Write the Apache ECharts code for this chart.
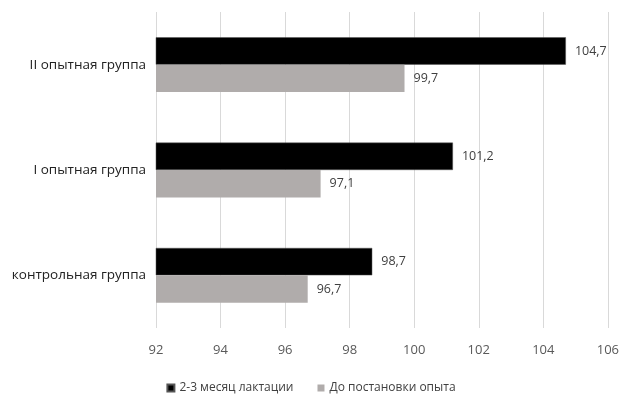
<!DOCTYPE html>
<html><head><meta charset="utf-8">
<script src="https://cdn.jsdelivr.net/npm/echarts@6/dist/echarts.min.js"></script>
<style>html,body{margin:0;padding:0;background:#fff}#c{width:622px;height:400px}</style>
</head><body><div id="c"></div>
<script>
const categories = ['контрольная группа', 'I опытная группа', 'II опытная группа'];
const seriesNames = ['2-3 месяц лактации', 'До постановки опыта'];
const lactation = [98.7, 101.2, 104.7];
const beforeExp = [96.7, 97.1, 99.7];
const fmt = v => String(v).replace('.', ',');
const chart = echarts.init(document.getElementById('c'));
chart.setOption({
  animation: false,
  textStyle: { fontFamily: 'Open Sans, DejaVu Sans, sans-serif' },
  legend: {
    bottom: 1, left: 'center', itemWidth: 7, itemHeight: 7, itemGap: 24,
    icon: 'rect',
    textStyle: { fontSize: 12, color: '#404040' },
    data: seriesNames
  },
  grid: { left: 156, right: 14, top: 12, bottom: 72 },
  xAxis: {
    type: 'value', min: 92, max: 106, interval: 2,
    axisLine: { show: false }, axisTick: { show: false },
    splitLine: { lineStyle: { color: '#d9d9d9' } },
    axisLabel: { color: '#595959', fontSize: 13, margin: 16 }
  },
  yAxis: {
    type: 'category', data: categories,
    axisLine: { show: false }, axisTick: { show: false },
    axisLabel: { color: '#222', fontSize: 13.5, margin: 10 }
  },
  series: [
    {
      name: seriesNames[0], type: 'bar', data: lactation,
      barGap: '0%', barCategoryGap: '48%',
      itemStyle: { color: '#000', borderColor: '#555', borderWidth: 0.5 },
      label: { show: true, position: 'right', distance: 9, color: '#404040', fontSize: 12.5, formatter: p => fmt(p.value) }
    },
    {
      name: seriesNames[1], type: 'bar', data: beforeExp,
      barGap: '0%', barCategoryGap: '48%',
      itemStyle: { color: '#b0acab' },
      label: { show: true, position: 'right', distance: 9, color: '#404040', fontSize: 12.5, formatter: p => fmt(p.value) }
    }
  ]
});
</script></body></html>
